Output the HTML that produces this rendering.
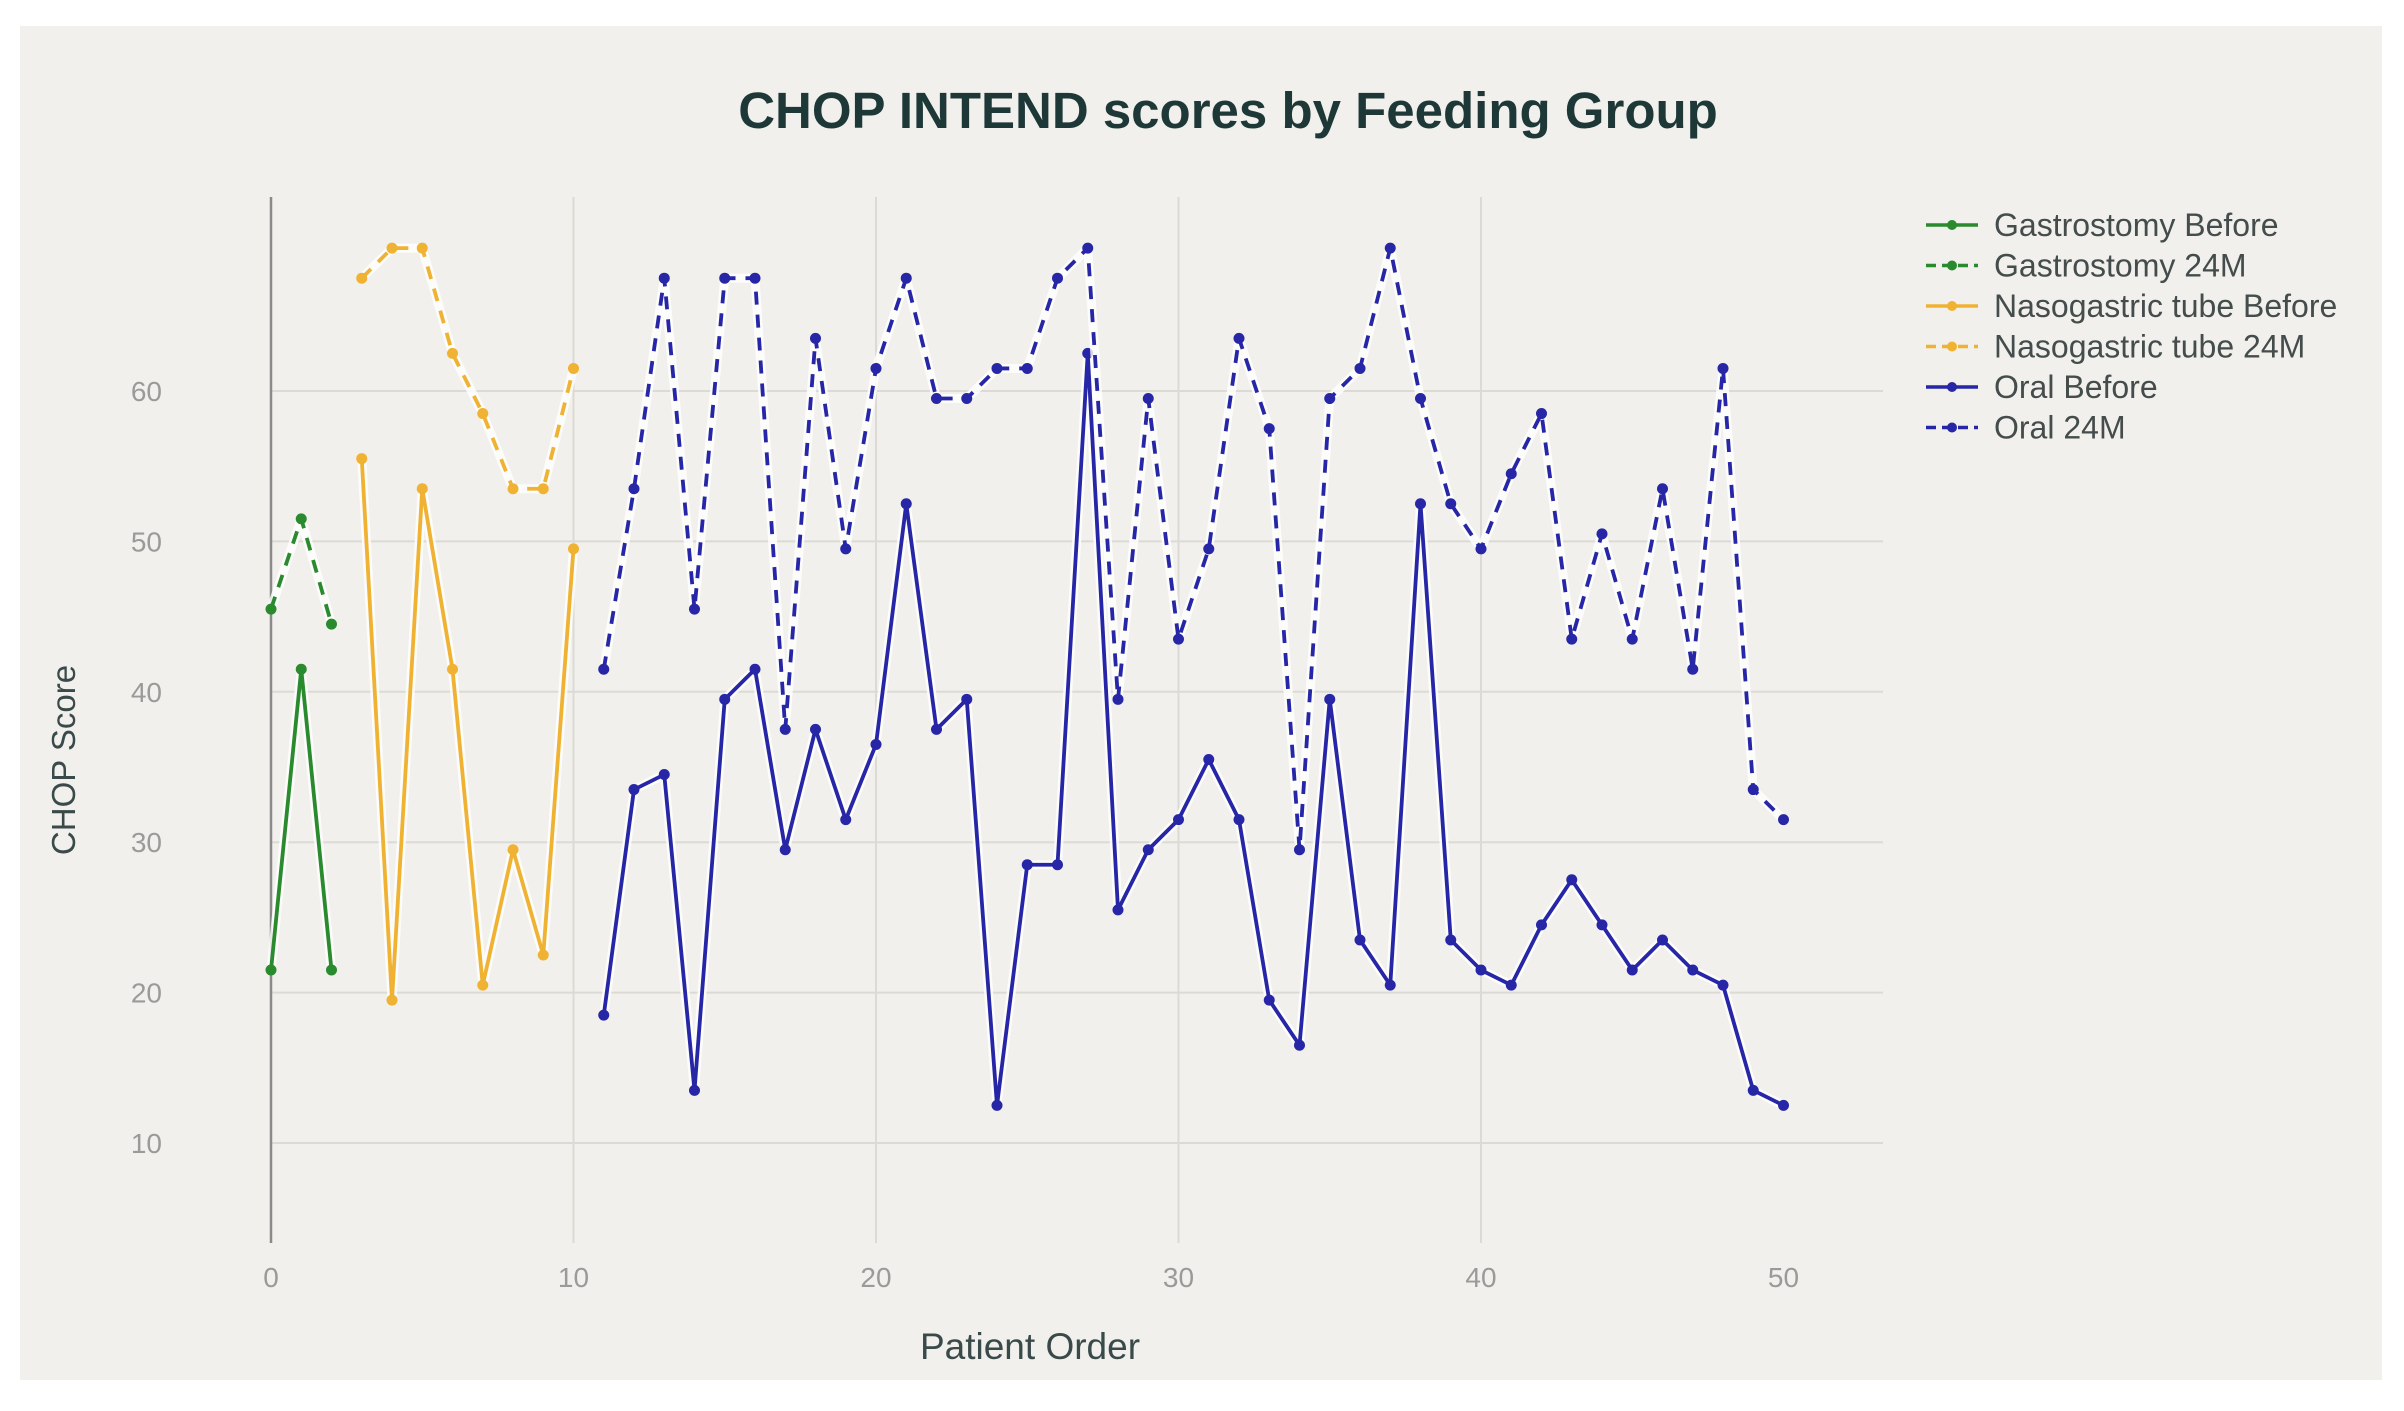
<!DOCTYPE html>
<html><head><meta charset="utf-8"><style>
html,body{margin:0;padding:0;background:#fff;}
svg{display:block;font-family:"Liberation Sans",sans-serif;}
</style></head><body>
<svg id="chart" width="2404" height="1411" viewBox="0 0 2404 1411">
<rect x="20" y="26" width="2362" height="1354" fill="#f1f0ec"/>
<text x="1228" y="128" text-anchor="middle" font-size="51" font-weight="bold" fill="#1e3838">CHOP INTEND scores by Feeding Group</text>
<text transform="translate(75,760) rotate(-90)" text-anchor="middle" font-size="33" fill="#3a4a4a">CHOP Score</text>
<text x="1030" y="1359" text-anchor="middle" font-size="37" fill="#3a4a4a">Patient Order</text>
<g id="grid"></g><g id="series"></g><g id="legend"></g>
</svg>
<script>
const xTicks=[0,10,20,30,40,50];
const yTicks=[10,20,30,40,50,60];
const gastroX=[0,1,2];
const gastroBefore=[21.5,41.5,21.5];
const gastro24=[45.5,51.5,44.5];
const nasoX=[3,4,5,6,7,8,9,10];
const nasoBefore=[55.5,19.5,53.5,41.5,20.5,29.5,22.5,49.5];
const naso24=[67.5,69.5,69.5,62.5,58.5,53.5,53.5,61.5];
const oralX=[11,12,13,14,15,16,17,18,19,20,21,22,23,24,25,26,27,28,29,30,31,32,33,34,35,36,37,38,39,40,41,42,43,44,45,46,47,48,49,50];
const oralBefore=[18.5,33.5,34.5,13.5,39.5,41.5,29.5,37.5,31.5,36.5,52.5,37.5,39.5,12.5,28.5,28.5,62.5,25.5,29.5,31.5,35.5,31.5,19.5,16.5,39.5,23.5,20.5,52.5,23.5,21.5,20.5,24.5,27.5,24.5,21.5,23.5,21.5,20.5,13.5,12.5];
const oral24=[41.5,53.5,67.5,45.5,67.5,67.5,37.5,63.5,49.5,61.5,67.5,59.5,59.5,61.5,61.5,67.5,69.5,39.5,59.5,43.5,49.5,63.5,57.5,29.5,59.5,61.5,69.5,59.5,52.5,49.5,54.5,58.5,43.5,50.5,43.5,53.5,41.5,61.5,33.5,31.5];
const seriesNames=["Gastrostomy Before","Gastrostomy 24M","Nasogastric tube Before","Nasogastric tube 24M","Oral Before","Oral 24M"];

const NS="http://www.w3.org/2000/svg";
const xs=v=>271+v*30.25;
const ys=v=>391+(60-v)*15.04;
function mk(tag,attrs,parent){const e=document.createElementNS(NS,tag);for(const k in attrs)e.setAttribute(k,attrs[k]);parent.appendChild(e);return e;}
const grid=document.getElementById('grid');
yTicks.forEach(t=>{
  const l=mk('line',{x1:270,x2:1883,y1:ys(t),y2:ys(t),stroke:'#dcdad5','stroke-width':2},grid);
  
  
  const tx=mk('text',{x:162,y:ys(t)+10,'text-anchor':'end','font-size':28,fill:'#9a9a9a'},grid);
  tx.textContent=t;
  
  
});
xTicks.forEach(t=>{
  if(t>0&&t<50){
    const l=mk('line',{x1:xs(t),x2:xs(t),y1:197,y2:1243,stroke:'#dcdad5','stroke-width':2},grid);
    
    
  }
  const tx=mk('text',{x:xs(t),y:1287,'text-anchor':'middle','font-size':28,fill:'#9a9a9a'},grid);
  tx.textContent=t;
  
  
});
const ax=mk('line',{x1:271,x2:271,y1:197,y2:1243,stroke:'#8a8a8a','stroke-width':2.5},grid);



const sg=document.getElementById('series');
const G='#2a8a2e',O='#f0b233',B='#2626a6';
const defs=[[gastroX,gastroBefore,G,false],[gastroX,gastro24,G,true],[nasoX,nasoBefore,O,false],[nasoX,naso24,O,true],[oralX,oralBefore,B,false],[oralX,oral24,B,true]];
defs.forEach((d,i)=>{
  const [X,Y,c,dash]=d;
  const pts=X.map((x,j)=>xs(x)+','+ys(Y[j])).join(' ');
  const g=mk('g',{},sg);
  
  
  mk('polyline',{points:pts,fill:'none',stroke:'#ffffff','stroke-width':9,'stroke-opacity':0.8,'stroke-linejoin':'round'},g);
  const pl=mk('polyline',{points:pts,fill:'none',stroke:c,'stroke-width':3.8,'stroke-dasharray':dash?'13 10':'none','stroke-linejoin':'round'},g);
  
  
  X.forEach((x,j)=>{
    const p=mk('circle',{cx:xs(x),cy:ys(Y[j]),r:5.5,fill:c},g);
    
    
  });
});

const lg=document.getElementById('legend');
const lcol=[G,G,O,O,B,B];
seriesNames.forEach((n,i)=>{
  const y=225+i*40.5;
  const g=mk('g',{},lg);
  
  
  mk('line',{x1:1926,x2:1978,y1:y,y2:y,stroke:lcol[i],'stroke-width':3.5,'stroke-dasharray':i%2?'10 6':'none'},g);
  mk('circle',{cx:1952,cy:y,r:5,fill:lcol[i]},g);
  const t=mk('text',{x:1994,y:y+11,'font-size':32,fill:'#444c4c'},g);
  t.textContent=n;
});
</script>
</body></html>
